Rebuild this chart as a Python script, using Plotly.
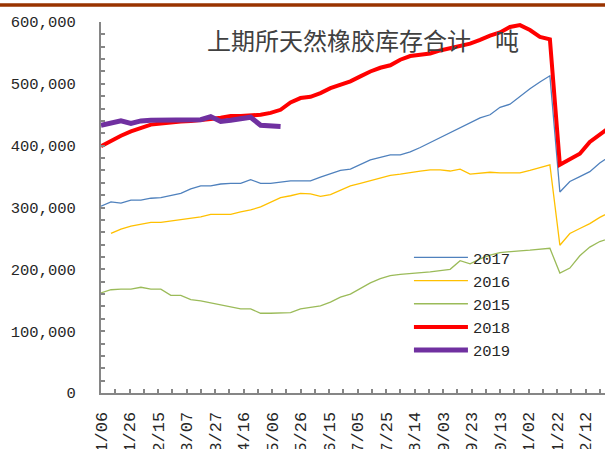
import pandas as pd
import plotly.graph_objects as go

# weekly points, plotted on one seasonal year (month/day axis)
weeks = pd.date_range("2018-01-06", periods=52, freq="7D")

v2017 = [302000, 309000, 307000, 312000, 312000, 315000, 316000, 319000, 323000, 330000,
         335000, 335000, 338000, 339000, 339000, 345000, 339000, 339000, 341000, 343000,
         343000, 343000, 349000, 355000, 360000, 362000, 369000, 377000, 381000, 385000,
         385000, 390000, 397000, 405000, 414000, 422000, 429000, 437000, 445000, 450000,
         462000, 467000, 480000, 492000, 503000, 513000, 325000, 342000, 350000, 358000,
         372000, 383000]
v2016 = [None, 258000, 265000, 270000, 273000, 276000, 276000, 278000, 281000, 283000,
         285000, 289000, 289000, 289000, 293000, 296000, 301000, 309000, 316000, 319000,
         323000, 322000, 318000, 321000, 328000, 335000, 339000, 343000, 347000, 352000,
         354000, 357000, 359000, 361000, 361000, 359000, 362000, 354000, 355000, 357000,
         356000, 356000, 356000, 360000, 364000, 369000, 239000, 258000, 266000, 274000,
         284000, 292000]
v2015 = [162000, 167000, 168000, 168000, 171000, 168000, 168000, 158000, 158000, 151000,
         149000, 146000, 143000, 140000, 136000, 136000, 129000, 129000, 129000, 130000,
         136000, 138000, 141000, 147000, 155000, 160000, 169000, 178000, 185000, 190000,
         192000, 193000, 194000, 196000, 198000, 200000, 214000, 209000, 217000, 223000,
         227000, 229000, 230000, 231000, 232000, 234000, 194000, 202000, 222000, 236000,
         245000, 250000]
v2018 = [399000, 408000, 416000, 423000, 429000, 434000, 436000, 438000, 439000, 440000,
         441000, 443000, 445000, 448000, 448000, 449000, 450000, 453000, 458000, 470000,
         477000, 479000, 485000, 493000, 499000, 504000, 512000, 520000, 526000, 530000,
         539000, 545000, 547000, 549000, 554000, 558000, 561000, 565000, 571000, 578000,
         583000, 592000, 595000, 587000, 576000, 572000, 369000, 378000, 387000, 406000,
         418000, 430000]
v2019 = [433000, 437000, 440000, 436000, 440000, 441000, 441000, 441000, 441000, 441000,
         442000, 447000, 439000, 441000, 443000, 446000, 433000, 433000, 431000]

series = [
    ("2017", v2017, "#4F81BD", 1.3),
    ("2016", v2016, "#FFC000", 1.3),
    ("2015", v2015, "#9BBB59", 1.3),
    ("2018", v2018, "#FF0000", 4),
    ("2019", v2019, "#7030A0", 5),
]

fig = go.Figure()
for name, vals, color, w in series:
    fig.add_trace(go.Scatter(x=weeks[:len(vals)], y=vals, name=name, mode="lines",
                             line=dict(color=color, width=w)))

DAY = 86400000
axis_grey = "#868686"

fig.update_layout(
    width=605, height=449,
    margin=dict(l=101, r=0, t=22, b=56),
    plot_bgcolor="white", paper_bgcolor="white",
    showlegend=True,
    legend=dict(x=0.611, y=0.41, xanchor="left", yanchor="top",
                bgcolor="rgba(0,0,0,0)", itemwidth=54, tracegroupgap=0,
                font=dict(family="Liberation Mono", size=15.5, color="#262626")),
    xaxis=dict(type="date", range=["2018-01-06", "2018-12-25 16:00"],
               tickmode="linear", tick0="2018-01-06", dtick=20 * DAY,
               tickformat="%m/%d", tickangle=-90,
               ticks="inside", ticklen=4, tickwidth=1.5, tickcolor=axis_grey,
               minor=dict(tick0="2018-01-06", dtick=10 * DAY, ticks="inside", ticklen=4,
                          tickwidth=1.5, tickcolor=axis_grey, showgrid=False),
               showline=True, linecolor=axis_grey, linewidth=2,
               showgrid=False, zeroline=False, automargin=False,
               ticklabelstandoff=10,
               tickfont=dict(family="Liberation Mono", size=17, color="#262626")),
    yaxis=dict(range=[0, 600000], tickmode="linear", tick0=0, dtick=100000,
               tickformat=",", ticks="inside", ticklen=4, tickwidth=1.5, tickcolor=axis_grey,
               minor=dict(dtick=20000, ticks="inside", ticklen=4, tickwidth=1.5,
                          tickcolor=axis_grey, showgrid=False),
               showline=True, linecolor=axis_grey, linewidth=2,
               showgrid=False, zeroline=False, automargin=False,
               ticklabelstandoff=20,
               tickfont=dict(family="Liberation Mono", size=15.5, color="#262626")),
)

# title inside the plot
fig.add_annotation(text="上期所天然橡胶库存合计\u3000吨", xref="paper", yref="paper",
                   x=0.519, y=0.9515, xanchor="center", yanchor="middle", showarrow=False,
                   font=dict(family="Noto Sans CJK SC", size=24, color="#404040"))

# brown rule across the top of the picture
fig.add_shape(type="line", xref="paper", yref="paper", x0=-0.21, x1=1.01,
              y0=1.0458, y1=1.0458, line=dict(color="#993300", width=3.5))

# drop the browser's default page margin so the figure sits at the corner
fig.write_html("out.html", config={"displayModeBar": False},
               post_script="document.body.style.margin='0';")
